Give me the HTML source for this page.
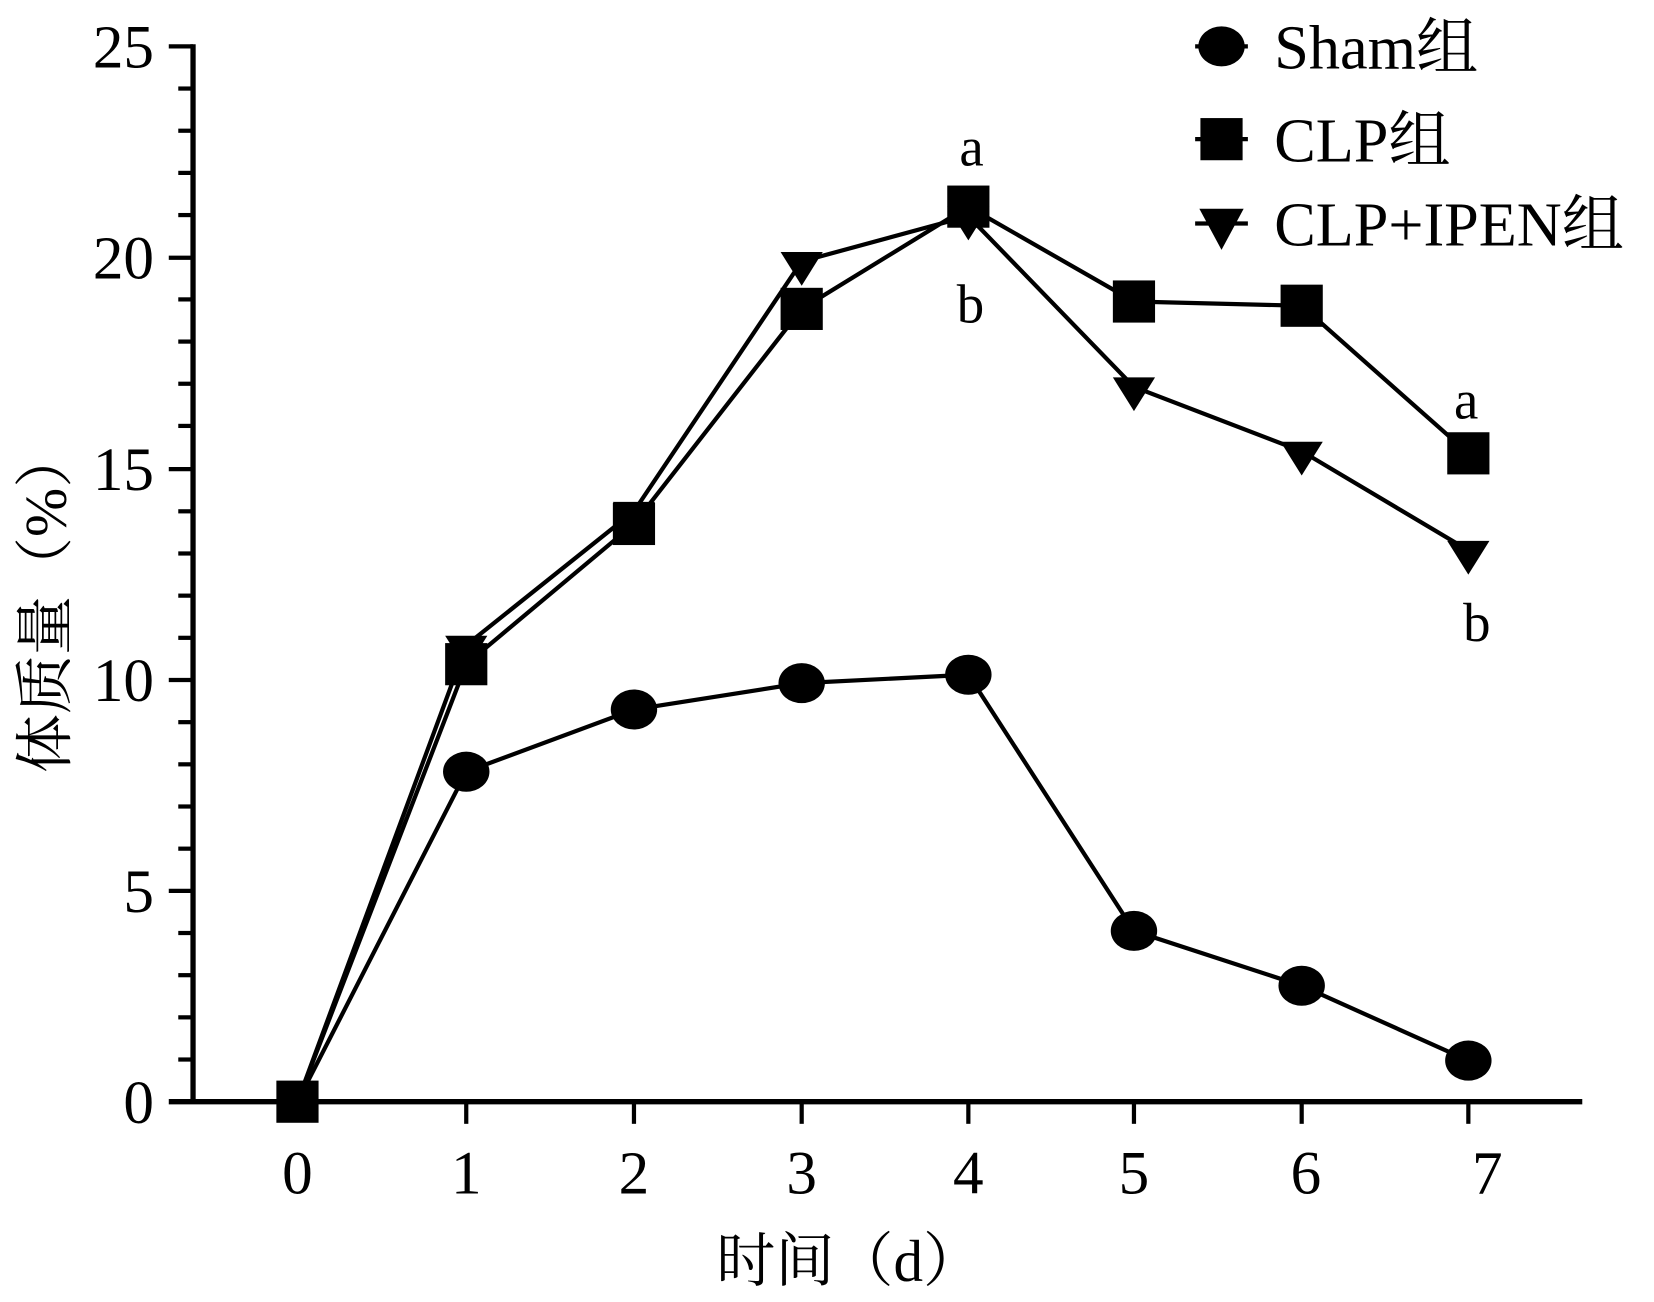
<!DOCTYPE html>
<html><head><meta charset="utf-8"><style>
html,body{margin:0;padding:0;background:#fff;}
svg{display:block;}
text{font-family:"Liberation Serif","Noto Serif CJK SC",serif;fill:#000;}
</style></head><body>
<svg width="1654" height="1302" viewBox="0 0 1568 1235" preserveAspectRatio="none" xmlns="http://www.w3.org/2000/svg">
<rect width="1568" height="1235" fill="#fff"/>
<g stroke="#000" stroke-width="5" fill="none">
<line x1="183" y1="42" x2="183" y2="1047"/>
<line x1="160" y1="1045" x2="1500" y2="1045"/>
</g>
<g stroke="#000" stroke-width="4">
<line x1="160" y1="44" x2="183" y2="44"/><line x1="160" y1="244.5" x2="183" y2="244.5"/><line x1="160" y1="445" x2="183" y2="445"/><line x1="160" y1="645" x2="183" y2="645"/><line x1="160" y1="845" x2="183" y2="845"/>
<line x1="169" y1="84" x2="183" y2="84"/><line x1="169" y1="124" x2="183" y2="124"/><line x1="169" y1="164" x2="183" y2="164"/><line x1="169" y1="204" x2="183" y2="204"/>
<line x1="169" y1="284" x2="183" y2="284"/><line x1="169" y1="324" x2="183" y2="324"/><line x1="169" y1="364" x2="183" y2="364"/><line x1="169" y1="404" x2="183" y2="404"/>
<line x1="169" y1="485" x2="183" y2="485"/><line x1="169" y1="525" x2="183" y2="525"/><line x1="169" y1="565" x2="183" y2="565"/><line x1="169" y1="605" x2="183" y2="605"/>
<line x1="169" y1="685" x2="183" y2="685"/><line x1="169" y1="725" x2="183" y2="725"/><line x1="169" y1="765" x2="183" y2="765"/><line x1="169" y1="805" x2="183" y2="805"/>
<line x1="169" y1="885" x2="183" y2="885"/><line x1="169" y1="925" x2="183" y2="925"/><line x1="169" y1="965" x2="183" y2="965"/><line x1="169" y1="1005" x2="183" y2="1005"/>
<line x1="442" y1="1045" x2="442" y2="1066"/><line x1="601" y1="1045" x2="601" y2="1066"/><line x1="760" y1="1045" x2="760" y2="1066"/><line x1="918" y1="1045" x2="918" y2="1066"/><line x1="1075" y1="1045" x2="1075" y2="1066"/><line x1="1234" y1="1045" x2="1234" y2="1066"/><line x1="1392" y1="1045" x2="1392" y2="1066"/>
</g>
<g font-size="58" text-anchor="end">
<text x="146" y="64">25</text><text x="146" y="264">20</text><text x="146" y="465">15</text><text x="146" y="665">10</text><text x="146" y="865">5</text><text x="146" y="1065">0</text>
</g>
<g font-size="58" text-anchor="middle">
<text x="282" y="1132">0</text><text x="442" y="1132">1</text><text x="601" y="1132">2</text><text x="760" y="1132">3</text><text x="918" y="1132">4</text><text x="1075" y="1132">5</text><text x="1238" y="1132">6</text><text x="1410" y="1132">7</text>
</g>
<text x="805" y="1215" font-size="56" text-anchor="middle">时间（d）</text>
<text transform="translate(62,570) rotate(-90)" font-size="56" text-anchor="middle">体质量（%）</text>
<g stroke="#000" stroke-width="4" fill="none">
<polyline points="282,1045 442,732 601,673 760,648 918,640 1075,883 1234,935 1392,1006"/>
<polyline points="282,1045 442,630 601,497 760,293 918,196 1075,286 1234,290 1392,430"/>
<polyline points="282,1045 442,612 601,485 760,248 918,205 1075,367 1234,428 1392,522"/>
</g>
<g fill="#000">
<ellipse cx="442" cy="732" rx="22" ry="19"/><ellipse cx="601" cy="673" rx="22" ry="19"/><ellipse cx="760" cy="648" rx="22" ry="19"/><ellipse cx="918" cy="640" rx="22" ry="19"/><ellipse cx="1075" cy="883" rx="22" ry="19"/><ellipse cx="1234" cy="935" rx="22" ry="19"/><ellipse cx="1392" cy="1006" rx="22" ry="19"/>
<polygon points="422,603 462,603 442,635"/><polygon points="581,476 621,476 601,508"/><polygon points="740,239 780,239 760,271"/><polygon points="898,196 938,196 918,228"/><polygon points="1055,358 1095,358 1075,390"/><polygon points="1214,419 1254,419 1234,451"/><polygon points="1372,513 1412,513 1392,545"/>
<rect x="262" y="1025" width="40" height="40"/><rect x="422" y="610" width="40" height="40"/><rect x="581" y="477" width="40" height="40"/><rect x="740" y="273" width="40" height="40"/><rect x="898" y="176" width="40" height="40"/><rect x="1055" y="266" width="40" height="40"/><rect x="1214" y="270" width="40" height="40"/><rect x="1372" y="410" width="40" height="40"/>
</g>
<g font-size="52" text-anchor="middle">
<text x="921" y="157">a</text><text x="920" y="306">b</text><text x="1390" y="397">a</text><text x="1400" y="608">b</text>
</g>
<g stroke="#000" stroke-width="4">
<line x1="1133" y1="44" x2="1183" y2="44"/><line x1="1133" y1="132" x2="1183" y2="132"/><line x1="1133" y1="212" x2="1183" y2="212"/>
</g>
<g fill="#000">
<ellipse cx="1158" cy="44" rx="22" ry="19"/>
<rect x="1138" y="112" width="40" height="40"/>
<polygon points="1137,198 1179,198 1158,237"/>
</g>
<g font-size="59">
<text x="1208" y="65">Sham组</text><text x="1208" y="153">CLP组</text><text x="1208" y="233">CLP+IPEN组</text>
</g>
</svg>
</body></html>
